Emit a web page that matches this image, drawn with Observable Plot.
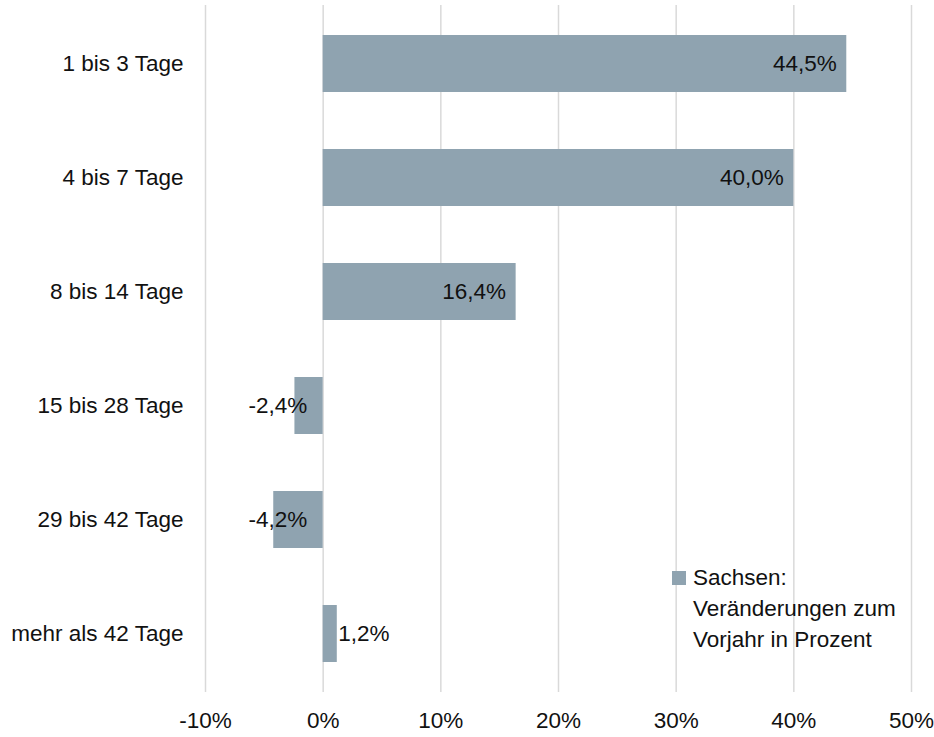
<!DOCTYPE html>
<html>
<head>
<meta charset="utf-8">
<script src="https://cdn.jsdelivr.net/npm/d3@7"></script>
<script src="https://cdn.jsdelivr.net/npm/@observablehq/plot@0.6"></script>
<style>
  html, body { margin: 0; padding: 0; background: #fff; }
  #wrap { position: relative; width: 934px; height: 737px; font-family: "Liberation Sans", Arial, sans-serif; }
  #legend { position: absolute; left: 672px; top: 562px; font-size: 22.5px; line-height: 31px; color: #111; }
  #legend .sw { position: absolute; left: 0; top: 9px; width: 14px; height: 14px; background: #8fa3b0; }
  #legend .tx { margin-left: 21px; }
</style>
</head>
<body>
<div id="wrap"></div>
<script>
const categories = ["1 bis 3 Tage", "4 bis 7 Tage", "8 bis 14 Tage", "15 bis 28 Tage", "29 bis 42 Tage", "mehr als 42 Tage"];
const values = [0.445, 0.400, 0.164, -0.024, -0.042, 0.012];
const xTicks = [-0.1, 0, 0.1, 0.2, 0.3, 0.4, 0.5];
const legendLabel = ["Sachsen:", "Veränderungen zum", "Vorjahr in Prozent"];

const data = categories.map((c, i) => ({cat: c, v: values[i]}));
const fmtLabel = v => (v * 100).toFixed(1).replace(".", ",") + "%";
const fmtTick = v => Math.round(v * 100) + "%";

const inside = data.filter(d => d.v >= 0.1);
const outsidePos = data.filter(d => d.v >= 0 && d.v < 0.1);
const neg = data.filter(d => d.v < 0);
const FS = 22.5;

const chart = Plot.plot({
  width: 934,
  height: 737,
  marginTop: 5,
  marginBottom: 45,
  marginLeft: 205,
  marginRight: 23,
  style: {fontFamily: "'Liberation Sans', Arial, sans-serif", fontSize: FS + "px", color: "#111", background: "#fff"},
  x: {domain: [-0.1, 0.5], ticks: xTicks, tickFormat: fmtTick, label: null},
  y: {domain: categories, paddingInner: 0.5, paddingOuter: 0.25, label: null},
  marks: [
    Plot.ruleX(xTicks, {stroke: "#d9d9d9", strokeWidth: 1.5}),
    Plot.barX(data, {x1: 0, x2: "v", y: "cat", fill: "#8fa3b0"}),
    Plot.text(inside, {x: "v", y: "cat", text: d => fmtLabel(d.v), textAnchor: "end", dx: -10, fill: "#111", fontSize: FS}),
    Plot.text(outsidePos, {x: "v", y: "cat", text: d => fmtLabel(d.v), textAnchor: "start", dx: 1, fill: "#111", fontSize: FS}),
    Plot.text(neg, {x: 0, y: "cat", text: d => fmtLabel(d.v), textAnchor: "end", dx: -16, fill: "#111", fontSize: FS}),
    Plot.axisX({ticks: xTicks, tickFormat: fmtTick, tickSize: 0, tickPadding: 20, fontSize: FS, label: null}),
    Plot.axisY({tickSize: 0, tickPadding: 22, fontSize: FS, label: null})
  ]
});

const wrap = document.getElementById("wrap");
wrap.appendChild(chart);
const leg = document.createElement("div");
leg.id = "legend";
leg.innerHTML = '<div class="sw"></div><div class="tx">' + legendLabel.join("<br>") + '</div>';
wrap.appendChild(leg);
</script>
</body>
</html>
